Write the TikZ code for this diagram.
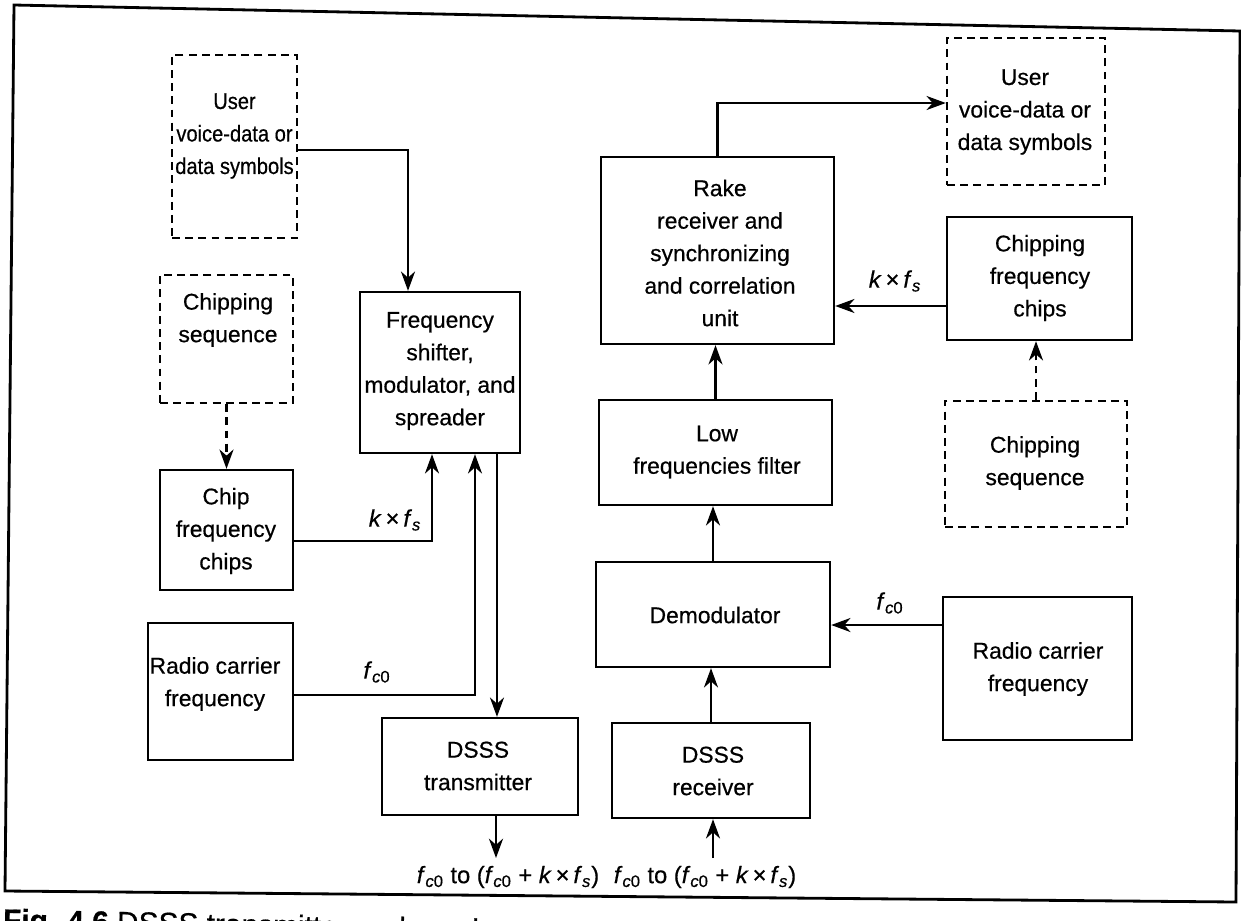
\documentclass[tikz,border=0pt]{standalone}
\usepackage{fontspec}
\setmainfont{Liberation Sans}[FakeBold=0.5]
\usetikzlibrary{arrows.meta}
\newcommand{\fcz}{\textit{f}\textsubscript{\textit{c}0}}
\newcommand{\kfs}{\textit{k}\,×\,\textit{f}\textsubscript{\textit{s}}}
\begin{document}
\begin{tikzpicture}[x=0.02cm,y=-0.02cm,
  sz/.style 2 args={minimum width=#1*0.02cm, minimum height=#2*0.02cm},
  blk/.style={draw, line width=1.35pt, inner sep=0pt},
  dblk/.style={blk, dash pattern=on 4.5pt off 3pt},
  txtst/.style={align=center, font=\fontsize{13}{18.5}\selectfont, inner sep=0pt},
  lbl/.style={font=\fontsize{13.5}{16}\selectfont, inner sep=0pt},
  arr/.style={line width=1.35pt, -{Stealth[length=11pt,width=8pt,inset=3.5pt]}},
  darr/.style={arr, dash pattern=on 4.5pt off 3pt}]
\fill[white] (0,0) rectangle (1241,920);
\clip (0,0) rectangle (1241,920);
% frame
\draw[line width=1.6pt] (14,5) -- (1240,31) -- (1236,902) -- (5,891) -- cycle;
\node[anchor=north west, rotate=-1.2, inner sep=0pt, font=\fontsize{17}{19}\bfseries] (cap) at (3,908) {Fig. 4.6 \mdseries DSSS transmitter and receiver};
% left column
\node[dblk, sz={125}{183}] (userL) at (234.5,146.5) {};
\node[txtst, xscale=0.88] (userLt) at (234.5,136) {User\\voice-data or\\data symbols};
\node[dblk, sz={133}{128}] (seqL) at (226.5,339) {};
\node[txtst] (seqLt) at (228,320) {Chipping\\sequence};
\node[blk, sz={133}{120}] (chipL) at (226.5,530) {};
\node[txtst] (chipLt) at (226,531) {Chip\\frequency\\chips};
\node[blk, sz={145}{137}] (radioL) at (220.5,691.5) {};
\node[txtst] (radioLt) at (215,684) {Radio carrier\\frequency};
\node[blk, sz={160}{161}] (mod) at (440,372.5) {};
\node[txtst] (modt) at (440,371) {Frequency\\shifter,\\modulator, and\\spreader};
\node[blk, sz={196}{97}] (tx) at (480,766.5) {};
\node[txtst] (txT) at (478,766) {DSSS\\transmitter};
% right column
\node[blk, sz={233}{187}] (rake) at (717.5,250.5) {};
\node[txtst] (raket) at (720,253) {Rake\\receiver and\\synchronizing\\and correlation\\unit};
\node[blk, sz={233}{105}] (filt) at (715.5,452.5) {};
\node[txtst] (filtt) at (717,452) {Low\\frequencies filter};
\node[blk, sz={234}{105}] (demod) at (713,614.5) {};
\node[txtst] (demodt) at (715,615) {Demodulator};
\node[blk, sz={198}{95}] (rx) at (711,770.5) {};
\node[txtst] (rxt) at (713,771) {DSSS\\receiver};
\node[dblk, sz={158}{147}] (userR) at (1026,111.5) {};
\node[txtst] (userRt) at (1025,112) {User\\voice-data or\\data symbols};
\node[blk, sz={185}{123}] (chipR) at (1039.5,278.5) {};
\node[txtst] (chipRt) at (1040,278) {Chipping\\frequency\\chips};
\node[dblk, sz={182}{126}] (seqR) at (1036,464) {};
\node[txtst] (seqRt) at (1035,463) {Chipping\\sequence};
\node[blk, sz={189}{143}] (radioR) at (1037.5,668.5) {};
\node[txtst] (radioRt) at (1038,669) {Radio carrier\\frequency};
% connectors left
\draw[arr] ([yshift=-0.07cm]userL.east) -| ([xshift=-0.64cm]mod.north);
\draw[darr] (seqL.south) -- (chipL.north);
\draw[arr] ([yshift=-0.22cm]chipL.east) -| ([xshift=-0.16cm]mod.south);
\node[lbl] (k1) at (395,520) {\kfs};
\draw[arr] ([yshift=-0.07cm]radioL.east) -| ([xshift=0.7cm]mod.south);
\node[lbl] (fc1) at (377,672) {\fcz};
\draw[arr] ([xshift=1.14cm]mod.south) -- ([xshift=1.14cm]mod.south |- tx.north);
\coordinate (txo) at (496,858);
\draw[arr] (tx.south -| txo) -- (txo);
\node[lbl] (txol) at (508,877) {\fcz\ to (\fcz\ + \kfs)};
% connectors right
\coordinate (rxi) at (713,858);
\draw[arr] (rxi) -- (rxi |- rx.south);
\node[lbl] (rxil) at (705,877) {\fcz\ to (\fcz\ + \kfs)};
\draw[arr] (rx.north) -- (rx.north |- demod.south);
\draw[arr] (demod.north) -- (demod.north |- filt.south);
\draw[arr] (filt.north) -- (filt.north |- rake.south);
\draw[arr] (rake.north) |- ([yshift=0.17cm]userR.west);
\draw[arr] ([yshift=-0.55cm]chipR.west) -- ([yshift=-0.55cm]chipR.west -| rake.east);
\node[lbl] (k2) at (895,281) {\kfs};
\draw[darr] (seqR.north) -- (seqR.north |- chipR.south);
\draw[arr] ([yshift=0.87cm]radioR.west) -- ([yshift=0.87cm]radioR.west -| demod.east);
\node[lbl] (fc2) at (890,603) {\fcz};
\end{tikzpicture}
\end{document}
